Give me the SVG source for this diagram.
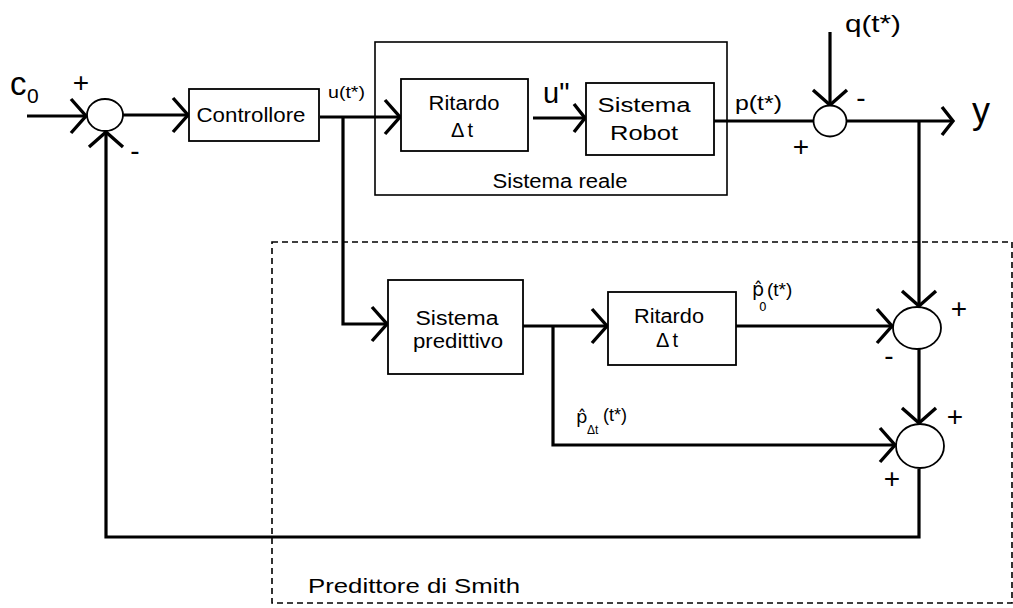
<svg xmlns="http://www.w3.org/2000/svg" width="1013" height="608" viewBox="0 0 1013 608">
  <style>
    .box { fill: #fff; stroke: #000; stroke-width: 1.8; }
    .frame { fill: none; stroke: #000; stroke-width: 1.6; }
    .dash { fill: none; stroke: #000; stroke-width: 1.6; stroke-dasharray: 6 4; }
    .sum { fill: #fff; stroke: #000; stroke-width: 1.8; }
    .wire { fill: none; stroke: #000; stroke-width: 3.2; }
    text { font-family: "Liberation Sans", Arial, sans-serif; fill: #000; }
    .lbl { font-size: 20px; text-anchor: middle; }
    .sig { font-size: 28px; text-anchor: middle; }
    .hat { font-family: "DejaVu Sans", "Liberation Sans", sans-serif; }
  </style>
  <defs>
    <marker id="arrow" markerUnits="userSpaceOnUse" viewBox="-20 -20 24 40" refX="0" refY="0" markerWidth="24" markerHeight="40" orient="auto">
      <path d="M-15,-17 L0,0 L-15,17" fill="none" stroke="#000" stroke-width="3.4"/>
    </marker>
    <marker id="arrowSmall" markerUnits="userSpaceOnUse" viewBox="-20 -20 24 40" refX="0" refY="0" markerWidth="24" markerHeight="40" orient="auto">
      <path d="M-11,-14 L0,0 L-11,14" fill="none" stroke="#000" stroke-width="3.4"/>
    </marker>
  </defs>

  <!-- Smith predictor frame -->
  <g id="smith-frame">
    <rect class="dash" x="272" y="242" width="740" height="361"/>
    <text x="308" y="593" font-size="21" textLength="212" lengthAdjust="spacingAndGlyphs">Predittore di Smith</text>
  </g>

  <!-- Real system frame -->
  <g id="real-system">
    <rect class="frame" x="375" y="42" width="352" height="153"/>
    <text class="lbl" x="560" y="188" textLength="135" lengthAdjust="spacingAndGlyphs">Sistema reale</text>
  </g>

  <!-- Connectors -->
  <g id="connectors">
    <path class="wire" d="M27,116 H86" marker-end="url(#arrow)"/>
    <path class="wire" d="M123,115 H188" marker-end="url(#arrow)"/>
    <path class="wire" d="M320,117 H400" marker-end="url(#arrow)"/>
    <path class="wire" d="M343,117 V324 H387" marker-end="url(#arrow)"/>
    <path class="wire" d="M533,118 H585" marker-end="url(#arrowSmall)"/>
    <path class="wire" d="M714,121 H814"/>
    <path class="wire" d="M830,32 V105" marker-end="url(#arrow)"/>
    <path class="wire" d="M846,121 H953" marker-end="url(#arrowSmall)"/>
    <path class="wire" d="M919,121 V306" marker-end="url(#arrow)"/>
    <path class="wire" d="M523,326 H607" marker-end="url(#arrow)"/>
    <path class="wire" d="M553,326 V445 H895" marker-end="url(#arrow)"/>
    <path class="wire" d="M736,326 H892" marker-end="url(#arrow)"/>
    <path class="wire" d="M919,349 V423" marker-end="url(#arrow)"/>
    <path class="wire" d="M919,469 V537 H106 V132" marker-end="url(#arrow)"/>
  </g>

  <!-- Summing junctions -->
  <g id="sum-input">
    <ellipse class="sum" cx="105" cy="115" rx="18" ry="16"/>
    <text class="sig" x="81" y="92">+</text>
    <text class="sig" x="135" y="160">-</text>
  </g>
  <g id="sum-disturbance">
    <ellipse class="sum" cx="830" cy="121" rx="16.5" ry="15.5"/>
    <text class="sig" x="861" y="107">-</text>
    <text class="sig" x="801" y="156">+</text>
  </g>
  <g id="sum-predict-0">
    <ellipse class="sum" cx="917" cy="328" rx="24" ry="21"/>
    <text class="sig" x="959" y="318">+</text>
    <text class="sig" x="889" y="365">-</text>
  </g>
  <g id="sum-predict-dt">
    <ellipse class="sum" cx="920" cy="446" rx="24" ry="22"/>
    <text class="sig" x="955" y="426">+</text>
    <text class="sig" x="892" y="488">+</text>
  </g>

  <!-- Blocks -->
  <g id="controllore">
    <rect class="box" x="189" y="89" width="130" height="52"/>
    <text class="lbl" x="251" y="122" textLength="109" lengthAdjust="spacingAndGlyphs">Controllore</text>
  </g>
  <g id="ritardo-reale">
    <rect class="box" x="401" y="79" width="127" height="72"/>
    <text class="lbl" x="464" y="110" textLength="71" lengthAdjust="spacingAndGlyphs">Ritardo</text>
    <text class="lbl" x="462" y="137">Δ<tspan dx="3">t</tspan></text>
  </g>
  <g id="sistema-robot">
    <rect class="box" x="586" y="83" width="128" height="72"/>
    <text class="lbl" x="644" y="112" font-size="24" textLength="93" lengthAdjust="spacingAndGlyphs">Sistema</text>
    <text class="lbl" x="644" y="140" font-size="24" textLength="68" lengthAdjust="spacingAndGlyphs">Robot</text>
  </g>
  <g id="sistema-predittivo">
    <rect class="box" x="388" y="280" width="135" height="94"/>
    <text class="lbl" x="457" y="325" textLength="83" lengthAdjust="spacingAndGlyphs">Sistema</text>
    <text class="lbl" x="458" y="348" textLength="90" lengthAdjust="spacingAndGlyphs">predittivo</text>
  </g>
  <g id="ritardo-predittore">
    <rect class="box" x="608" y="292" width="128" height="73"/>
    <text class="lbl" x="669" y="323" textLength="70" lengthAdjust="spacingAndGlyphs">Ritardo</text>
    <text class="lbl" x="667" y="347">Δ<tspan dx="3">t</tspan></text>
  </g>

  <!-- Signal labels -->
  <g id="labels">
    <text x="10" y="95" font-size="33">c<tspan x="27" y="103" font-size="21">0</tspan></text>
    <text x="328" y="98" font-size="17" textLength="37" lengthAdjust="spacingAndGlyphs">u(t*)</text>
    <text x="543" y="103" font-size="29">u"</text>
    <text x="735" y="110" font-size="20" textLength="47" lengthAdjust="spacingAndGlyphs">p(t*)</text>
    <text x="845" y="32" font-size="24" textLength="56" lengthAdjust="spacingAndGlyphs">q(t*)</text>
    <text x="972" y="123" font-size="36">y</text>
    <!-- predicted output without delay -->
    <text class="hat" x="752" y="296" font-size="19">p̂<tspan x="759" y="311" font-size="12">0</tspan><tspan x="767" y="296" font-family="Liberation Sans, sans-serif">(t*)</tspan></text>
    <!-- predicted output with delay -->
    <text class="hat" x="576" y="423" font-size="18">p̂<tspan x="587" y="434" font-size="12" font-family="Liberation Sans, sans-serif">Δt</tspan><tspan x="603" y="421" font-family="Liberation Sans, sans-serif">(t*)</tspan></text>
  </g>
</svg>
